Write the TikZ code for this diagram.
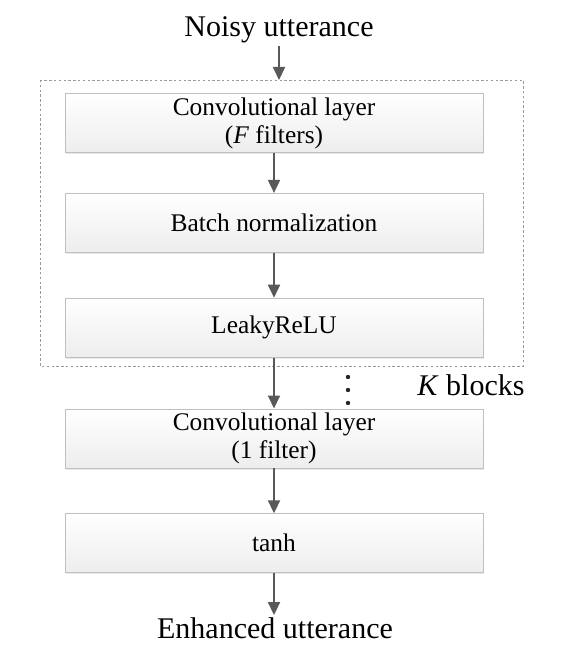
\documentclass[tikz,border=0pt]{standalone}
\usepackage{fontspec}
\setmainfont{Liberation Serif}
\usepackage{tikz}
\usetikzlibrary{arrows.meta, positioning, shadows}

\begin{document}
\begin{tikzpicture}[
    x=0.5pt, y=-0.5pt,
    % Estilos
    layer/.style={rectangle, draw=black!25, top color=white, bottom color=black!7, minimum width=209pt, minimum height=29.5pt, align=center, inner sep=1pt, font=\fontsize{12.7}{14}\selectfont, drop shadow={opacity=0.18, shadow xshift=0.5pt, shadow yshift=-0.8pt}},
    io/.style={font=\fontsize{15}{17}\selectfont, inner sep=1pt},
    arrow/.style={-{Triangle[length=6.5pt, width=6pt]}, line width=0.95pt, black!65},
    frame/.style={draw=black!40, line width=0.4pt, dash pattern=on 1.2pt off 1.2pt}
]
\useasboundingbox (0,0) rectangle (561,652);

% Entrada
\node[io] (noisy) at (279,30) {Noisy utterance};

% Bloque repetido (K veces)
\node[layer] (conv) at (274,123) {Convolutional layer\\(\textit{F} filters)};
\node[layer, below=20pt of conv] (bn) {Batch normalization};
\node[layer, below=22.5pt of bn] (leaky) {LeakyReLU};

% Marco punteado del bloque
\coordinate (frameNW) at (40,80);
\coordinate (frameSE) at (523,366);
\draw[frame] (frameNW) rectangle (frameSE);
\node[io] (kblocks) at (471,385) {\textit{K} blocks};
\foreach \y in {377,390,403}
    \fill[black!85] (348,\y) circle (1.1pt);

% Salida
\node[layer, below=25.5pt of leaky] (convout) {Convolutional layer\\(1 filter)};
\node[layer, below=22.5pt of convout] (tanh) {tanh};
\node[io] (enhanced) at (275,628) {Enhanced utterance};

% Flechas
\draw[arrow] (noisy) -- (noisy |- frameNW);
\draw[arrow] (conv) -- (bn);
\draw[arrow] (bn) -- (leaky);
\draw[arrow] (leaky) -- (convout);
\draw[arrow] (convout) -- (tanh);
\draw[arrow] (tanh) -- (tanh |- enhanced.north);

\end{tikzpicture}
\end{document}
